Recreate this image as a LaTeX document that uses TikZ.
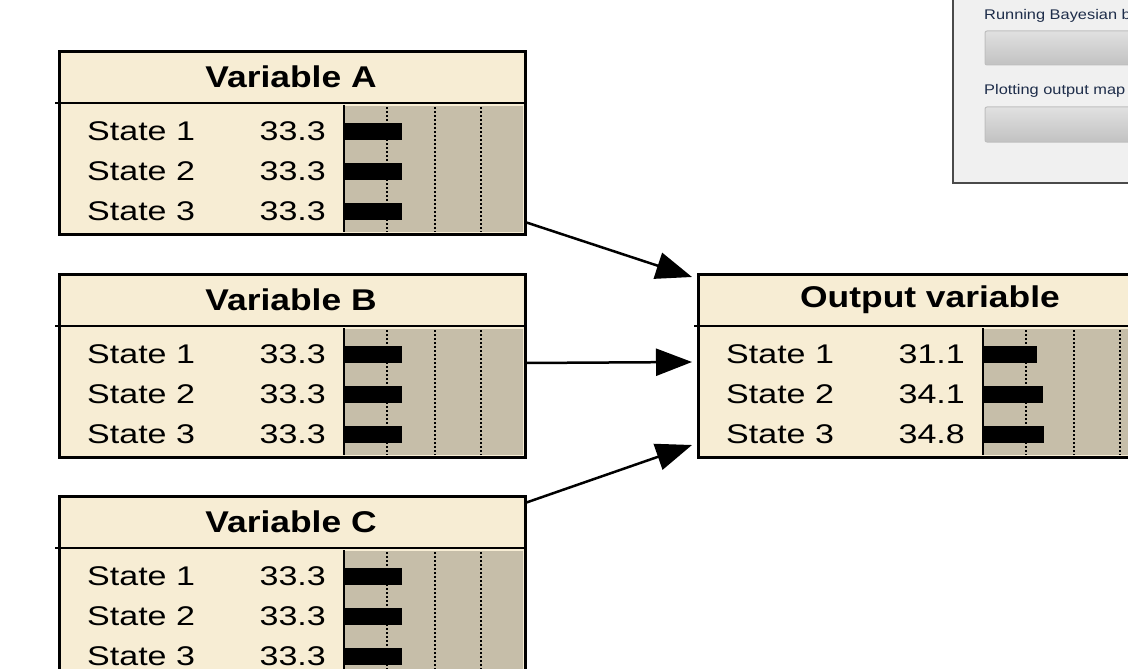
\documentclass[tikz,border=0pt]{standalone}
\usepackage{fontspec}
\usetikzlibrary{arrows.meta}
\newfontfamily\statefont[FakeStretch=1.26]{Liberation Sans}
\newfontfamily\headfont[FakeStretch=1.18]{Liberation Sans}
\newfontfamily\dlgfont[FakeStretch=1.17]{Liberation Sans}
\definecolor{cream}{HTML}{F7EDD4}
\definecolor{graybg}{HTML}{C6BEA9}
\definecolor{dlgbg}{HTML}{F0F0F0}
\definecolor{dlgborder}{HTML}{4A4A4A}
\definecolor{dlgtext}{HTML}{1E2D4A}
\tikzset{
  boxframe/.style={draw=black, line width=3pt, fill=cream, rectangle, inner sep=0pt,
    minimum width=466pt, minimum height=183pt, anchor=north west},
  headtext/.style={inner sep=0pt, font=\headfont\bfseries\fontsize{30}{30}\selectfont},
  statetext/.style={inner sep=0pt, anchor=west, font=\statefont\fontsize{27}{27}\selectfont},
  valtext/.style={inner sep=0pt, anchor=east, font=\statefont\fontsize{27}{27}\selectfont},
  dotline/.style={line width=2pt, dash pattern=on 2pt off 2pt},
  arr/.style={line width=2.5pt, -{Triangle[length=36pt,width=27pt]}},
  dlgtxt/.style={inner sep=0pt, anchor=base west, text=dlgtext, font=\dlgfont\fontsize{14}{14}\selectfont},
  pbar/.style={draw=white!75!black, line width=1pt, rounded corners=2pt, top color=white!88!black, bottom color=white!76!black}
}
% #1 name, #2 x, #3 y, #4 title, #5 #6 #7 values
\newcommand\bnbox[7]{%
  \begin{scope}[shift={(#2,#3)}]
    \node[boxframe] (#1) at (0,0) {};
    \fill[graybg] (286,56) rectangle (465,182);
    \draw[line width=1.5pt] (286,55) -- (286,182);
    \draw[line width=2.5pt] (-3,53) -- (466,53);
    \draw[dotline] (329,57) -- (329,182);
    \draw[dotline] (377,57) -- (377,182);
    \draw[dotline] (423,57) -- (423,182);
    \fill[black] (286,73) rectangle ({286+#5*1.75},90);
    \fill[black] (286,113) rectangle ({286+#6*1.75},130);
    \fill[black] (286,153) rectangle ({286+#7*1.75},170);
    \node[headtext] (#1-title) at (233,27) {#4};
    \node[statetext] (#1-s1) at (29,81) {State 1};
    \node[statetext] (#1-s2) at (29,121) {State 2};
    \node[statetext] (#1-s3) at (29,161) {State 3};
    \node[valtext] (#1-v1) at (268,81) {#5};
    \node[valtext] (#1-v2) at (268,121) {#6};
    \node[valtext] (#1-v3) at (268,161) {#7};
  \end{scope}}
\begin{document}
\begin{tikzpicture}[x=1pt,y=-1pt]
\useasboundingbox (0,0) rectangle (1128,669);
\clip (0,0) rectangle (1128,669);
\fill[white] (0,0) rectangle (1128,669);
% dialog
\fill[dlgbg] (953,-5) rectangle (1135,183);
\draw[dlgborder, line width=2pt] (953,-5) -- (953,183) -- (1135,183);
\node[dlgtxt] (run) at (984,20) {Running Bayesian b};
\draw[pbar] (985,31) rectangle (1140,65);
\node[dlgtxt] (plot) at (984,95) {Plotting output map};
\draw[pbar] (985,107) rectangle (1140,142);
% boxes
\bnbox{A}{58}{50}{Variable A}{33.3}{33.3}{33.3}
\bnbox{B}{58}{273}{Variable B}{33.3}{33.3}{33.3}
\bnbox{C}{58}{495}{Variable C}{33.3}{33.3}{33.3}
\bnbox{O}{697}{273}{Output variable}{31.1}{34.1}{34.8}
% connectors
\coordinate (a0) at (525,222);
\coordinate (b0) at (525,363);
\coordinate (c0) at (525,503);
\coordinate (a1) at (692,277);
\coordinate (b1) at (692,362);
\coordinate (c1) at (692,445);
\draw[arr] (a0) -- (a1);
\draw[arr] (b0) -- (b1);
\draw[arr] (c0) -- (c1);
\end{tikzpicture}
\end{document}
